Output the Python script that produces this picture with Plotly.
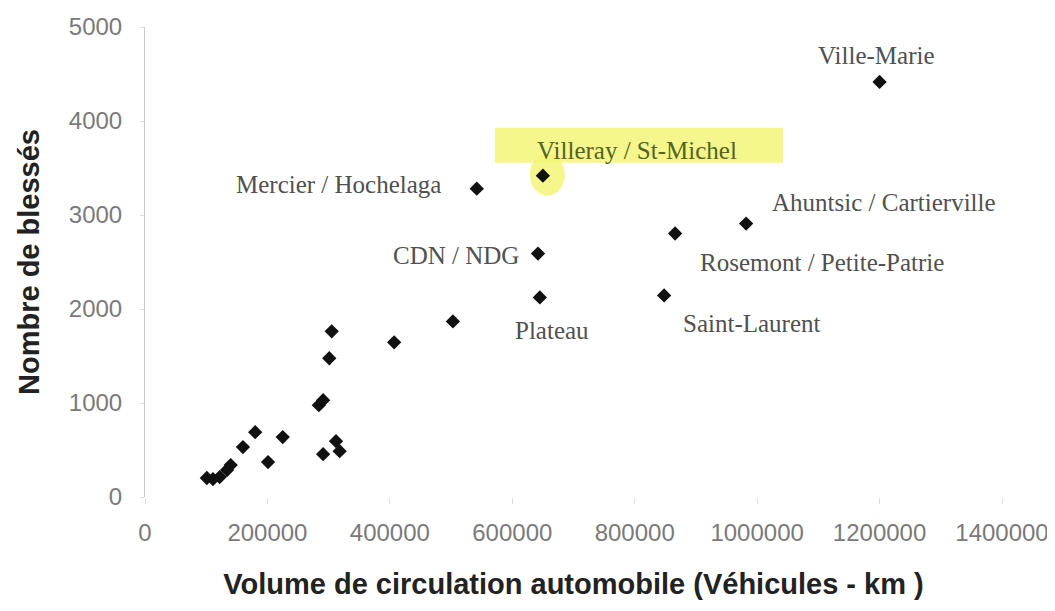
import plotly.graph_objects as go

# Data
districts = [
    "Ville-Marie", "Villeray / St-Michel", "Mercier / Hochelaga", "Ahuntsic / Cartierville",
    "Rosemont / Petite-Patrie", "CDN / NDG", "Plateau", "Saint-Laurent",
    "", "", "", "", "", "", "", "", "", "", "", "", "", "", "", "", "", ""
]
volume = [
    1200000, 650000, 542000, 982000,
    866000, 642000, 645000, 848000,
    503000, 407000, 305000, 301000, 284000, 291000, 291000, 312000, 318000,
    225000, 201000, 180000, 160000, 140000, 134000, 122000, 111000, 101000
]
blesses = [
    4416, 3418, 3280, 2909,
    2803, 2590, 2123, 2144,
    1868, 1645, 1762, 1476, 977, 1030, 456, 594, 488,
    637, 372, 690, 531, 340, 287, 212, 191, 202
]

# label offsets (pixels) relative to each labelled point
label_dx = [-3, 94, -138, 138, 147, -82, 12, 88]
label_dy = [26, 25, 4, 21, -29, -2, -33, -28]

x_ticks = [0, 200000, 400000, 600000, 800000, 1000000, 1200000, 1400000]
y_ticks = [0, 1000, 2000, 3000, 4000, 5000]

fig = go.Figure()

# yellow highlight behind Villeray / St-Michel (pixel-sized, anchored at the point)
hl = 1
fig.add_shape(type="rect", xref="x", yref="y", xsizemode="pixel", ysizemode="pixel",
              xanchor=volume[hl], yanchor=blesses[hl], x0=-48, x1=240, y0=13, y1=48,
              fillcolor="rgba(243,245,120,0.85)", line_width=0, layer="below")
fig.add_shape(type="circle", xref="x", yref="y", xsizemode="pixel", ysizemode="pixel",
              xanchor=volume[hl], yanchor=blesses[hl], x0=-13, x1=22, y0=-20, y1=22,
              fillcolor="rgba(243,245,120,0.85)", line_width=0, layer="below")

fig.add_trace(go.Scatter(
    x=volume, y=blesses, mode="markers",
    marker=dict(symbol="diamond", size=11, color="#111111"),
    showlegend=False, hoverinfo="x+y"
))

for i, name in enumerate(districts):
    if not name:
        continue
    fig.add_annotation(
        x=volume[i], y=blesses[i], text=name, showarrow=False,
        xshift=label_dx[i], yshift=label_dy[i], xanchor="center", yanchor="middle",
        font=dict(family="Liberation Serif", size=25,
                  color="#55631f" if i == hl else "#505050"),
    )

fig.update_xaxes(
    range=[0, 1400000], tickvals=x_ticks, ticktext=[str(v) for v in x_ticks],
    showgrid=False, zeroline=False, showline=False, automargin=False,
    ticks="outside", ticklen=6, tickcolor="#dddddd", ticklabelstandoff=8,
    tickfont=dict(family="Liberation Sans", size=24, color="#7a7a7a"),
    title=dict(text="Volume de circulation automobile (Véhicules - km )",
               font=dict(family="Liberation Sans", size=29, color="#222222", weight="bold"),
               standoff=28),
)
fig.update_yaxes(
    range=[0, 5000], tickvals=y_ticks, ticktext=[str(v) for v in y_ticks],
    showgrid=False, zeroline=False, showline=True, linecolor="#c8c8c8", linewidth=1,
    automargin=False,
    ticks="outside", ticklen=4, tickcolor="#dddddd", ticklabelstandoff=13,
    tickfont=dict(family="Liberation Sans", size=24, color="#7a7a7a"),
    title=dict(text="Nombre de blessés",
               font=dict(family="Liberation Sans", size=29, color="#222222", weight="bold"),
               standoff=20),
)

fig.update_layout(
    width=1047, height=603,
    margin=dict(l=137, r=53, t=19, b=114),
    plot_bgcolor="white", paper_bgcolor="white",
)

fig.write_html("out.html")
